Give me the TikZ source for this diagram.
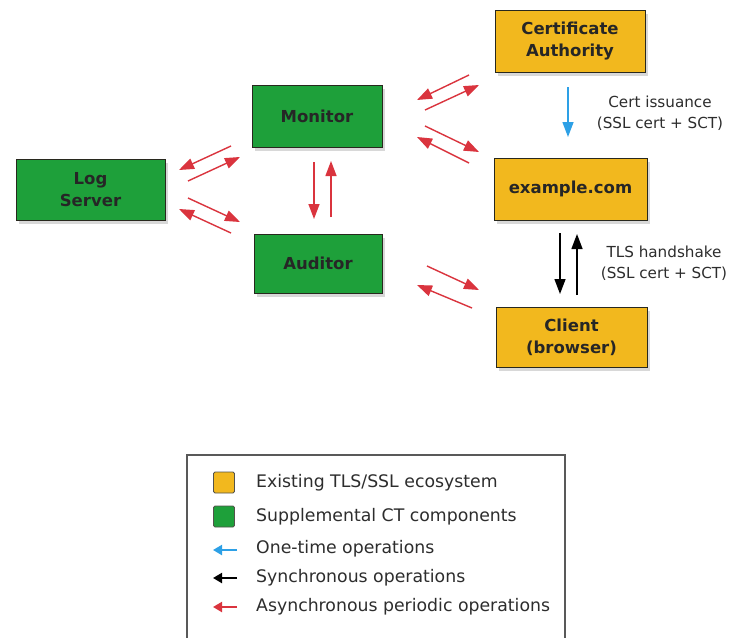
\documentclass[tikz,border=0pt]{standalone}
\usepackage{fontspec}
\setmainfont{DejaVu Sans}
\usetikzlibrary{arrows.meta,shadows}
\definecolor{ctyellow}{RGB}{242,184,30}
\definecolor{ctgreen}{RGB}{30,160,58}
\definecolor{ctred}{RGB}{218,52,62}
\definecolor{ctblue}{RGB}{45,160,230}
\definecolor{ctborder}{RGB}{40,40,30}
\definecolor{cttext}{RGB}{45,45,45}
\begin{document}
\begin{tikzpicture}[x=1pt,y=-1pt,
  box/.style={draw=ctborder, line width=0.9pt, inner sep=0pt, align=center,
    font=\bfseries\fontsize{16.5}{22}\selectfont, text=black!85,
    drop shadow={shadow xshift=3pt, shadow yshift=-4pt, opacity=0.3}},
  ybox/.style={box, fill=ctyellow},
  gbox/.style={box, fill=ctgreen},
  tip/.style={-{Triangle[length=15pt,width=11pt]}},
  redarr/.style={draw=ctred, line width=1.4pt, tip},
  blkarr/.style={draw=black, line width=1.4pt, tip},
  bluarr/.style={draw=ctblue, line width=1.4pt, tip},
  ltip/.style={line width=2pt, -{Triangle[length=9pt,width=10pt]}},
  lbl/.style={align=center, font=\fontsize{15.2}{21}\selectfont, text=cttext},
  legtxt/.style={anchor=west, font=\fontsize{17.3}{20}\selectfont, text=cttext, inner sep=0pt},
  legsq/.style={draw=ctborder!80, line width=0.9pt, rounded corners=1.5pt, minimum width=21pt, minimum height=21pt, inner sep=0pt}
]
\useasboundingbox (0,0) rectangle (733,637);
\fill[white] (0,0) rectangle (733,637);

% nodes
\node[gbox, minimum width=149pt, minimum height=61pt] (log) at (90.5,189.5) {Log\\Server};
\node[gbox, minimum width=130pt, minimum height=62pt] (mon) at (317,116) {Monitor};
\node[gbox, minimum width=128pt, minimum height=59pt] (aud) at (318,263.5) {Auditor};
\node[ybox, minimum width=150pt, minimum height=62pt] (ca) at (570,41) {Certificate\\Authority};
\node[ybox, minimum width=153pt, minimum height=62pt] (ex) at (570.5,189) {example.com};
\node[ybox, minimum width=151pt, minimum height=60pt] (cl) at (571.5,337) {Client\\(browser)};

% arrow end points
\coordinate (lm1s) at (231,146); \coordinate (lm1e) at (179,170);
\coordinate (lm2s) at (188,181); \coordinate (lm2e) at (240,157);
\coordinate (la1s) at (188,198); \coordinate (la1e) at (240,222);
\coordinate (la2s) at (231,233); \coordinate (la2e) at (179,209);
\coordinate (ma1s) at (314,162); \coordinate (ma1e) at (314,219);
\coordinate (ma2s) at (331,217); \coordinate (ma2e) at (331,161);
\coordinate (mc1s) at (469,75);  \coordinate (mc1e) at (417,100);
\coordinate (mc2s) at (425,110); \coordinate (mc2e) at (479,85);
\coordinate (me1s) at (425,126); \coordinate (me1e) at (479,152);
\coordinate (me2s) at (469,163); \coordinate (me2e) at (417,137);
\coordinate (ac1s) at (427,266); \coordinate (ac1e) at (479,290);
\coordinate (ac2s) at (472,308); \coordinate (ac2e) at (417,285);
\coordinate (ce1s) at (568,87);  \coordinate (ce1e) at (568,137);
\coordinate (ec1s) at (560,233); \coordinate (ec1e) at (560,294);
\coordinate (ec2s) at (577,295); \coordinate (ec2e) at (577,234);

\draw[redarr] (lm1s) -- (lm1e);
\draw[redarr] (lm2s) -- (lm2e);
\draw[redarr] (la1s) -- (la1e);
\draw[redarr] (la2s) -- (la2e);
\draw[redarr] (ma1s) -- (ma1e);
\draw[redarr] (ma2s) -- (ma2e);
\draw[redarr] (mc1s) -- (mc1e);
\draw[redarr] (mc2s) -- (mc2e);
\draw[redarr] (me1s) -- (me1e);
\draw[redarr] (me2s) -- (me2e);
\draw[redarr] (ac1s) -- (ac1e);
\draw[redarr] (ac2s) -- (ac2e);
\draw[bluarr] (ce1s) -- (ce1e);
\draw[blkarr] (ec1s) -- (ec1e);
\draw[blkarr] (ec2s) -- (ec2e);

\node[lbl] (issl) at (660,113) {Cert issuance\\(SSL cert + SCT)};
\node[lbl] (tlsl) at (664,263) {TLS handshake\\(SSL cert + SCT)};

% legend
\draw[draw=black!65, line width=1.3pt] (187,455) rectangle (565,680);
\node[legsq, fill=ctyellow] (lq1) at (224,482.5) {};
\node[legsq, fill=ctgreen] (lq2) at (224,516.5) {};
\node[legtxt] (lt1) at (256,483) {Existing TLS/SSL ecosystem};
\node[legtxt] (lt2) at (256,517) {Supplemental CT components};
\node[legtxt] (lt3) at (256,549) {One-time operations};
\node[legtxt] (lt4) at (256,578) {Synchronous operations};
\node[legtxt] (lt5) at (256,607) {Asynchronous periodic operations};
\coordinate (la3s) at (237,550); \coordinate (la3e) at (213,550);
\coordinate (la4s) at (237,578); \coordinate (la4e) at (213,578);
\coordinate (la5s) at (237,607); \coordinate (la5e) at (213,607);
\draw[draw=ctblue, ltip] (la3s) -- (la3e);
\draw[draw=black, ltip] (la4s) -- (la4e);
\draw[draw=ctred, ltip] (la5s) -- (la5e);
\end{tikzpicture}
\end{document}
